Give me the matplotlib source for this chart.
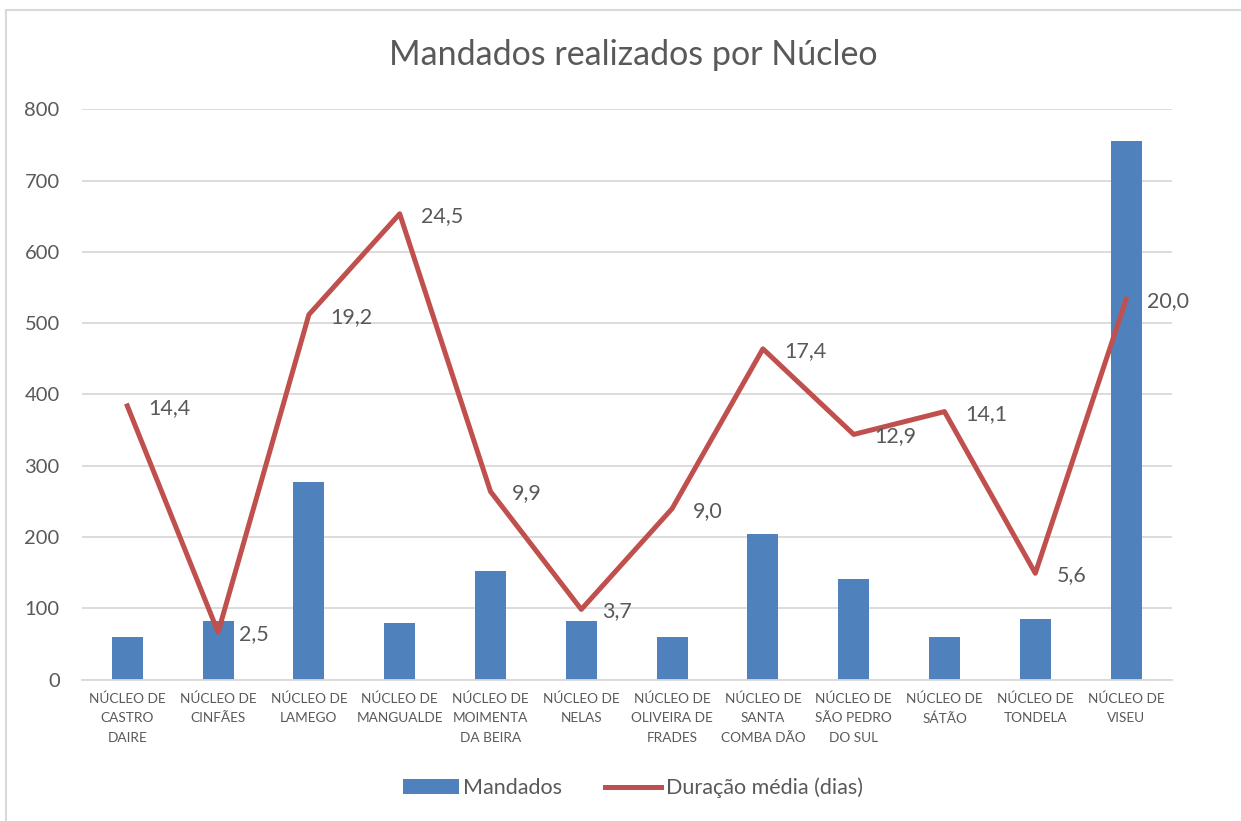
import numpy as np
import matplotlib
matplotlib.use('Agg')
import matplotlib.pyplot as plt
from matplotlib.lines import Line2D

# Data
categories = ['NÚCLEO DE\nCASTRO\nDAIRE','NÚCLEO DE\nCINFÃES','NÚCLEO DE\nLAMEGO','NÚCLEO DE\nMANGUALDE',
              'NÚCLEO DE\nMOIMENTA\nDA BEIRA','NÚCLEO DE\nNELAS','NÚCLEO DE\nOLIVEIRA DE\nFRADES',
              'NÚCLEO DE\nSANTA\nCOMBA DÃO','NÚCLEO DE\nSÃO PEDRO\nDO SUL','NÚCLEO DE\nSÁTÃO',
              'NÚCLEO DE\nTONDELA','NÚCLEO DE\nVISEU']
mandados = [60, 82, 278, 80, 152, 82, 60, 204, 141, 60, 85, 755]
duracao = [14.4, 2.5, 19.2, 24.5, 9.9, 3.7, 9.0, 17.4, 12.9, 14.1, 5.6, 20.0]
yticks = [0, 100, 200, 300, 400, 500, 600, 700, 800]

# Styles
BAR_COL = '#4f81bd'
LINE_COL = '#c0504d'
TXT_COL = '#595959'
GRID_COL = '#d9d9d9'
plt.rcParams['font.family'] = ['Lato', 'DejaVu Sans']

fig = plt.figure(figsize=(12.41,8.21), dpi=100, facecolor='w')
ax = fig.add_axes([0.066,0.172,0.878,0.695])
x = np.arange(len(categories))
bars = ax.bar(x, mandados, width=0.34, color=BAR_COL, zorder=2, label='Mandados')
ax.set_xlim(-0.5, len(categories)-0.5)
ax.set_ylim(0, 800)
ax.set_yticks(yticks)
ax.set_yticklabels([str(v) for v in yticks], fontsize=14.5, color=TXT_COL)
ax.set_xticks(x)
ax.set_xticklabels(categories, fontsize=9.8, color=TXT_COL, linespacing=1.75)
ax.tick_params(axis='both', length=0)
ax.tick_params(axis='y', pad=16)
ax.tick_params(axis='x', pad=9)
ax.grid(axis='y', color=GRID_COL, linewidth=1.3, zorder=0)
for s in ['top','right','left']:
    ax.spines[s].set_visible(False)
ax.spines['bottom'].set_color(GRID_COL)
ax.spines['bottom'].set_linewidth(1.3)

ax2 = ax.twinx()
ax2.set_ylim(0, 30)
ln, = ax2.plot(x, duracao, color=LINE_COL, linewidth=3.6, solid_joinstyle='round', label='Duração média (dias)', zorder=3)
ax2.set_yticks([])
for s in ax2.spines.values():
    s.set_visible(False)
for xi, v in zip(x, duracao):
    ax2.annotate('{:.1f}'.format(v).replace('.', ','), (xi, v), xytext=(21, -2), textcoords='offset pixels',
                 ha='left', va='center', fontsize=15.5, color=TXT_COL)

fig.text(0.51, 0.933, 'Mandados realizados por Núcleo', ha='center', va='center', fontsize=24.5, color=TXT_COL)
leg = fig.legend([bars, ln], ['Mandados', 'Duração média (dias)'], loc='center', bbox_to_anchor=(0.51, 0.04),
                 ncol=2, frameon=False, fontsize=15.5, handlelength=2.6, handletextpad=0.2, columnspacing=2.0)
for t in leg.get_texts():
    t.set_color(TXT_COL)

# chart border (only top and left visible)
fig.add_artist(Line2D([6/1241, 6/1241], [0, 1-10/821], transform=fig.transFigure, color=GRID_COL, linewidth=1.5))
fig.add_artist(Line2D([6/1241, 1], [1-10/821, 1-10/821], transform=fig.transFigure, color=GRID_COL, linewidth=1.5))

fig.savefig('out.png', dpi=100, facecolor='w')
